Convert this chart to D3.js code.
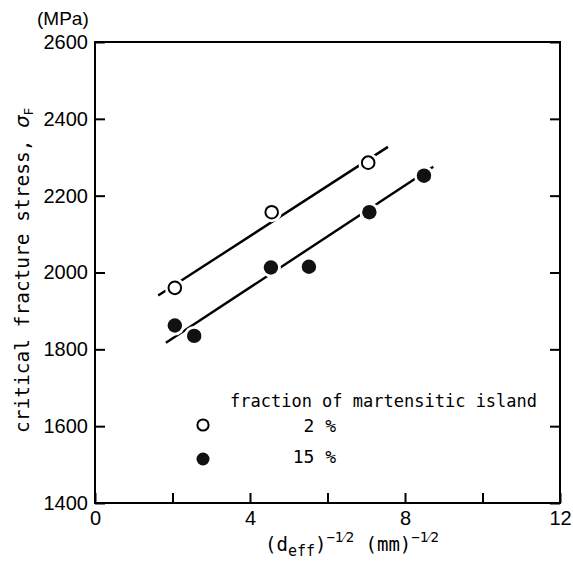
<!DOCTYPE html>
<html><head><meta charset="utf-8">
<script src="https://cdn.jsdelivr.net/npm/d3@7"></script>
<style>body{margin:0;background:#fff}</style>
</head><body><svg id="c" width="573" height="566"></svg>
<script>
// ---- data ----
const xTicks = [0, 2, 4, 6, 8, 10, 12];
const xTickLabels = [0, 4, 8, 12];
const yTicks = [1400, 1600, 1800, 2000, 2200, 2400, 2600];
const open2 = [[2.06, 1960], [4.56, 2157], [7.05, 2286]];
const filled15 = [[2.06, 1862], [2.56, 1835], [4.54, 2013], [5.52, 2015], [7.08, 2157], [8.49, 2252]];
const fit2 = [[1.63, 1940], [7.56, 2327]];
const fit15 = [[1.83, 1817], [8.73, 2275]];
const legendTitle = "fraction of martensitic island";
const legendLabels = ["2 %", "15 %"];

// ---- layout ----
const svg = d3.select("#c");
const x = d3.scaleLinear().domain([0, 12]).range([95, 560]);
const y = d3.scaleLinear().domain([1400, 2600]).range([503, 42]);
const numFont = "'Liberation Sans', Arial, sans-serif";
const txtFont = "'DejaVu Sans Mono', monospace";

// frame
svg.append("rect").attr("x", x(0)).attr("y", y(2600))
  .attr("width", x(12) - x(0)).attr("height", y(1400) - y(2600))
  .attr("fill", "none").attr("stroke", "#000").attr("stroke-width", 2);

function styleAxis(g) {
  g.select(".domain").remove();
  g.selectAll(".tick line").attr("stroke", "#000").attr("stroke-width", 2);
  g.selectAll(".tick text").attr("font-family", numFont).attr("font-size", 20).attr("fill", "#000");
}
svg.append("g").attr("transform", `translate(0,${y(1400)})`)
  .call(d3.axisBottom(x).tickValues(xTicks).tickSize(-10).tickPadding(8)
    .tickFormat(d => xTickLabels.includes(d) ? d : ""))
  .call(styleAxis);
svg.append("g").attr("transform", `translate(${x(0)},0)`)
  .call(d3.axisLeft(y).tickValues(yTicks).tickSize(-10).tickPadding(7).tickFormat(d3.format("d")))
  .call(styleAxis);
svg.append("g").attr("transform", `translate(${x(12)},0)`)
  .call(d3.axisRight(y).tickValues(yTicks).tickSize(-10).tickFormat(""))
  .call(styleAxis);

// unit
svg.append("text").attr("x", 37).attr("y", 25).attr("font-family", numFont)
  .attr("font-size", 19).attr("fill", "#000").text("(MPa)");

// fit lines
const line = d3.line().x(d => x(d[0])).y(d => y(d[1]));
[fit2, fit15].forEach(f => svg.append("path").attr("d", line(f))
  .attr("fill", "none").attr("stroke", "#000").attr("stroke-width", 2.4));

// halos + markers
const all = open2.concat(filled15);
svg.selectAll(".halo").data(all).join("circle").attr("class", "halo")
  .attr("cx", d => x(d[0])).attr("cy", d => y(d[1])).attr("r", 10).attr("fill", "#fff");
svg.selectAll(".op").data(open2).join("circle").attr("class", "op")
  .attr("cx", d => x(d[0])).attr("cy", d => y(d[1])).attr("r", 6.3)
  .attr("fill", "#fff").attr("stroke", "#000").attr("stroke-width", 2);
svg.selectAll(".fi").data(filled15).join("circle").attr("class", "fi")
  .attr("cx", d => x(d[0])).attr("cy", d => y(d[1])).attr("r", 7.2).attr("fill", "#111");

// legend
svg.append("text").attr("x", 230).attr("y", 407).attr("font-family", txtFont)
  .attr("font-size", 17).attr("fill", "#000").text(legendTitle);
svg.append("circle").attr("cx", 203).attr("cy", 425).attr("r", 5.6)
  .attr("fill", "#fff").attr("stroke", "#000").attr("stroke-width", 2);
svg.append("circle").attr("cx", 203).attr("cy", 459).attr("r", 6.5).attr("fill", "#111");
svg.selectAll(".lg").data(legendLabels).join("text").attr("class", "lg")
  .attr("x", 336).attr("y", (d, i) => 432 + i * 31).attr("text-anchor", "end")
  .attr("font-family", txtFont).attr("font-size", 18).attr("fill", "#000").text(d => d);

// y title
const yt = svg.append("text").attr("transform", "translate(29,433) rotate(-90)")
  .attr("font-family", txtFont).attr("font-size", 19.5).attr("fill", "#000");
yt.append("tspan").text("critical fracture stress, ");
yt.append("tspan").attr("font-style", "italic").attr("font-family", "'DejaVu Sans', sans-serif").text("σ");
yt.append("tspan").attr("font-size", 13).attr("dy", 4).text("F");

// x title
const xt = svg.append("text").attr("x", 265).attr("y", 551)
  .attr("font-family", txtFont).attr("font-size", 19).attr("fill", "#000");
xt.append("tspan").text("(d");
xt.append("tspan").attr("font-size", 15).attr("dy", 5).text("eff");
xt.append("tspan").attr("dy", -5).text(")");
xt.append("tspan").attr("font-size", 14).attr("dy", -9).text("−1⁄2");
xt.append("tspan").attr("dy", 9).text("  (mm)");
xt.append("tspan").attr("font-size", 14).attr("dy", -9).text("−1⁄2");
</script></body></html>
